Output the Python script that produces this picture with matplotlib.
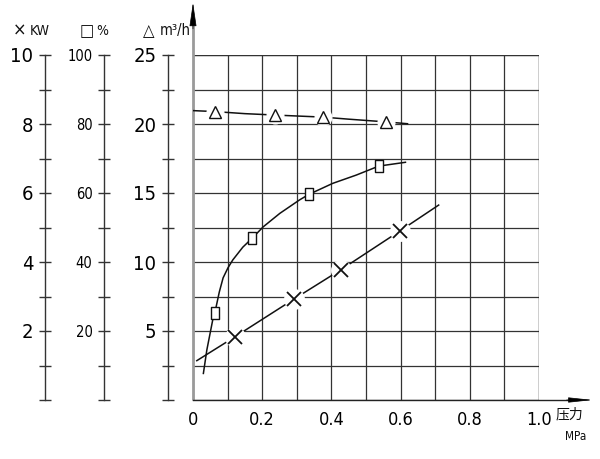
import matplotlib
matplotlib.use("Agg")
import matplotlib.pyplot as plt
from matplotlib.path import Path
import numpy as np

# ---------------- data ----------------
x_major = [0, 0.2, 0.4, 0.6, 0.8, 1.0]
x_labels = ["0", "0.2", "0.4", "0.6", "0.8", "1.0"]
x_minor = [0.1, 0.3, 0.5, 0.7, 0.9]

flow_ticks = [5, 10, 15, 20, 25]
flow_labels = ["5", "10", "15", "20", "25"]
flow_minor = [0, 2.5, 7.5, 12.5, 17.5, 22.5]

kw_ticks = [2, 4, 6, 8, 10]
kw_labels = ["2", "4", "6", "8", "10"]
kw_minor = [0, 1, 3, 5, 7, 9]

eff_ticks = [20, 40, 60, 80, 100]
eff_labels = ["20", "40", "60", "80", "100"]
eff_minor = [0, 10, 30, 50, 70, 90]

# flow (m3/h) vs pressure
flow_mark_x = [0.063, 0.236, 0.375, 0.559]
flow_mark_y = [20.9, 20.65, 20.5, 20.15]
flow_line_x = [0.0, 0.063, 0.15, 0.236, 0.30, 0.375, 0.45, 0.559, 0.62]
flow_line_y = [20.97, 20.9, 20.75, 20.65, 20.58, 20.5, 20.35, 20.15, 20.02]

# efficiency (%) vs pressure
eff_mark_x = [0.063, 0.171, 0.335, 0.537]
eff_mark_y = [25.2, 46.9, 59.6, 67.8]
eff_line_x = [0.030, 0.040, 0.057, 0.063, 0.076, 0.087, 0.101, 0.115, 0.144, 0.171,
              0.203, 0.251, 0.308, 0.335, 0.404, 0.472, 0.537, 0.614]
eff_line_y = [7.7, 14.5, 23.2, 25.2, 31.3, 35.4, 38.3, 40.6, 44.3, 46.9,
              50.2, 54.1, 58.0, 59.6, 62.8, 65.2, 67.8, 68.9]

# power (KW) vs pressure
kw_mark_x = [0.121, 0.291, 0.428, 0.598]
kw_mark_y = [1.83, 2.92, 3.78, 4.90]
kw_line_x = [0.011, 0.121, 0.291, 0.428, 0.598, 0.710]
kw_line_y = [1.14, 1.83, 2.92, 3.78, 4.90, 5.65]

# ---------------- style ----------------
FONT = ["DejaVu Sans", "Noto Sans CJK SC"]
plt.rcParams["font.family"] = FONT
plt.rcParams["font.stretch"] = "condensed"
W, H = 600, 459
fig = plt.figure(figsize=(W / 100, H / 100), dpi=100)

def px(x0, y0, x1, y1):
    return [x0 / W, 1 - y1 / H, (x1 - x0) / W, (y1 - y0) / H]

rect = px(193, 55, 539, 400)
GRID = "#333333"
INK = "#111111"
PT = 72 / 100  # points per pixel

ax = fig.add_axes(rect)
ax.set_xlim(0, 1.0)
ax.set_ylim(0, 25)
for s in ["top", "right", "bottom"]:
    ax.spines[s].set_visible(False)
ax.spines["left"].set_position(("outward", 25 * PT))
ax.spines["left"].set_color(GRID)
ax.spines["left"].set_linewidth(1)
ax.set_xticks(x_major, x_labels)
ax.set_xticks(x_minor, minor=True)
ax.set_yticks(flow_ticks, flow_labels)
ax.set_yticks(flow_minor, minor=True)
ax.tick_params(axis="x", which="both", length=0, pad=8, labelsize=13)
ax.tick_params(axis="y", which="both", direction="inout", length=12 * PT,
               width=1, color=GRID, labelsize=14.5, pad=4)
ax.grid(True, which="both", color=GRID, linewidth=0.9)
ax.set_axisbelow(True)
ax.axvline(1.0, color=GRID, lw=0.9)
ax.axhline(25, color=GRID, lw=0.9)

# main axes lines with arrowheads
ax.plot([0, 0], [0, 27.5], color="#9a9a9a", lw=2.0, clip_on=False, zorder=5,
        solid_capstyle="butt")
ax.plot([0, 1.10], [0, 0], color="#222222", lw=1.0, clip_on=False, zorder=5)
ax.annotate("", xy=(0, 28.8), xytext=(0, 26.9), annotation_clip=False,
            arrowprops=dict(arrowstyle="-|>,head_length=1.5,head_width=0.22",
                            color="black", lw=0.5, shrinkA=0, shrinkB=0),
            zorder=6)
ax.annotate("", xy=(1.155, 0), xytext=(1.08, 0), annotation_clip=False,
            arrowprops=dict(arrowstyle="-|>,head_length=1.5,head_width=0.16",
                            color="black", lw=0.5, shrinkA=0, shrinkB=0),
            zorder=6)

def overlay(ylim, offset_px, ticks, labels, minor, labelsize):
    a = fig.add_axes(rect, sharex=ax)
    a.set_facecolor("none")
    a.set_ylim(*ylim)
    for s in ["top", "right", "bottom"]:
        a.spines[s].set_visible(False)
    a.spines["left"].set_position(("outward", offset_px * PT))
    a.spines["left"].set_color(GRID)
    a.spines["left"].set_linewidth(1)
    a.set_yticks(ticks, labels)
    a.set_yticks(minor, minor=True)
    a.tick_params(axis="y", which="both", direction="inout", length=12 * PT,
                  width=1, color=GRID, labelsize=labelsize, pad=4)
    a.tick_params(axis="x", which="both", bottom=False, labelbottom=False)
    return a

ax_eff = overlay((0, 100), 89, eff_ticks, eff_labels, eff_minor, 10.5)
ax_kw = overlay((0, 10), 148, kw_ticks, kw_labels, kw_minor, 14.5)

# series
LW = 1.1
rect_marker = Path([(-0.33, -0.5), (0.33, -0.5), (0.33, 0.5), (-0.33, 0.5), (-0.33, -0.5)],
                   [Path.MOVETO, Path.LINETO, Path.LINETO, Path.LINETO, Path.CLOSEPOLY])

ax_kw.plot(flow_line_x, [v / 2.5 for v in flow_line_y], color=INK, lw=LW, zorder=2)
ax_kw.plot(flow_mark_x, [v / 2.5 for v in flow_mark_y], ls="none", marker="o",
           ms=12, mfc="white", mec="white", zorder=3)
ax_kw.plot(flow_mark_x, [v / 2.5 for v in flow_mark_y], ls="none", marker="^",
           ms=8, mfc="white", mec=INK, mew=1.0, zorder=4)

ax_eff.plot(eff_line_x, eff_line_y, color=INK, lw=LW, zorder=2)
ax_eff.plot(eff_mark_x, eff_mark_y, ls="none", marker=rect_marker,
            ms=9, mfc="white", mec=INK, mew=1.0, zorder=4)

ax_kw.plot(kw_line_x, kw_line_y, color=INK, lw=LW, zorder=2)
ax_kw.plot(kw_mark_x, kw_mark_y, ls="none", marker="o",
           ms=14, mfc="white", mec="white", zorder=3)
ax_kw.plot(kw_mark_x, kw_mark_y, ls="none", marker="x",
           ms=9.5, mec=INK, mew=1.3, zorder=4)

# headers
def ftxt(x, y, s, size, family=FONT):
    fig.text(x / W, 1 - y / H, s, fontsize=size, va="center", ha="left",
             family=family, color=INK)

ftxt(13, 31, "×", 13)
ftxt(30, 31, "KW", 10)
ftxt(80, 31, "□", 12)
ftxt(96, 31, "%", 10)
ftxt(143, 31, "△", 12)
ftxt(160, 31, "m³/h", 10.5)
ftxt(556, 414, "压力", 10, family=["Noto Sans CJK SC", "DejaVu Sans"])
ftxt(565, 437, "MPa", 8.5)

fig.savefig("out.png", dpi=100)
